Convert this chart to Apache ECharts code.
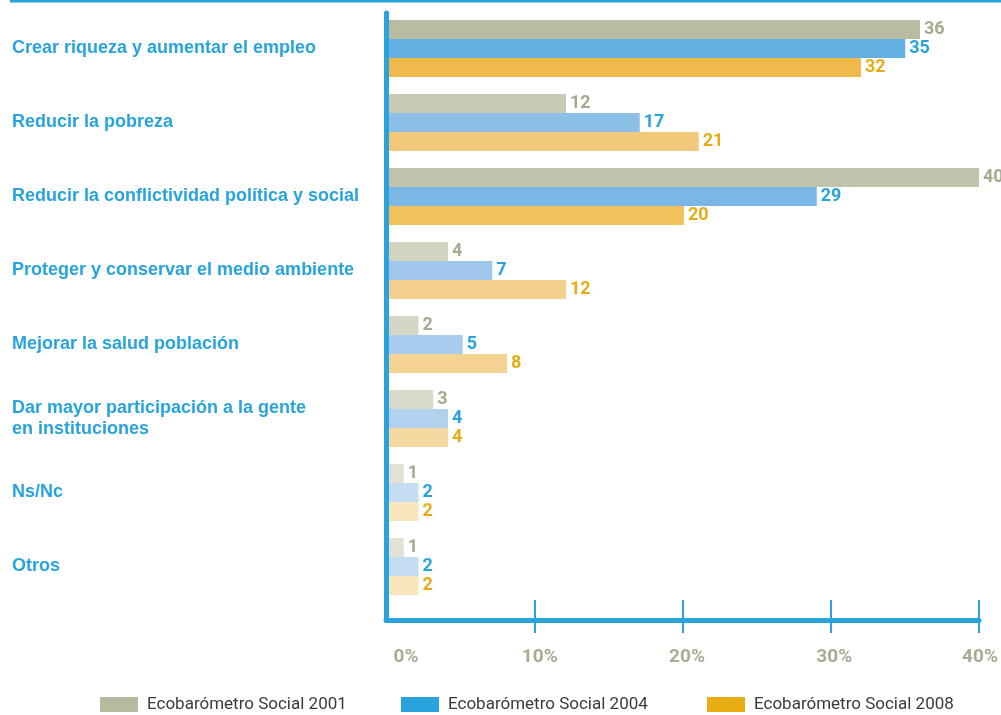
<!DOCTYPE html>
<html>
<head>
<meta charset="utf-8">
<script src="https://cdn.jsdelivr.net/npm/echarts@6/dist/echarts.min.js"></script>
<style>html,body{margin:0;padding:0;background:#fff}#c{width:1001px;height:715px}</style>
</head>
<body>
<div id="c"></div>
<script>
const categories = [
  'Crear riqueza y aumentar el empleo',
  'Reducir la pobreza',
  'Reducir la conflictividad política y social',
  'Proteger y conservar el medio ambiente',
  'Mejorar la salud población',
  'Dar mayor participación a la gente\nen instituciones',
  'Ns/Nc',
  'Otros'
];
const seriesNames = ['Ecobarómetro Social 2001', 'Ecobarómetro Social 2004', 'Ecobarómetro Social 2008'];
const values2001 = [36, 12, 40, 4, 2, 3, 1, 1];
const values2004 = [35, 17, 29, 7, 5, 4, 2, 2];
const values2008 = [32, 21, 20, 12, 8, 4, 2, 2];
const xTickValues = [0, 10, 20, 30, 40];

// styles
const legendColors = ['#b8baa0', '#2aa3dc', '#e9ae13'];
const legendLefts = [100, 401, 707];
const labelColors = ['#a8aa90', '#29a3dc', '#e8ab12'];
const barColors = [
  ['#b9bca2', '#c8cab4', '#c1c4ad', '#d2d4c2', '#d5d7c6', '#d9dbca', '#e1e2d5', '#e1e2d5'],
  ['#62b0e1', '#8dc0e8', '#7ab7e6', '#a0c8ec', '#a7cced', '#b0d2ef', '#c4ddf3', '#c4ddf3'],
  ['#efba4b', '#f2c97a', '#f1c15e', '#f4d08e', '#f4d394', '#f6d9a1', '#f9e6bd', '#f9e6bd']
];
const tickLabelShift = {0: 40, 10: 11, 20: 9, 30: 7, 40: 2};
const NUM_FONT = 'Roboto';

const allValues = [values2001, values2004, values2008];
const BLUE = '#29a3dc';

const chart = echarts.init(document.getElementById('c'), null, {renderer: 'canvas'});

const rich = {};
xTickValues.forEach(v => {
  rich['p' + v] = {
    fontFamily: NUM_FONT, fontWeight: 'bold', fontSize: 19,
    color: '#a9ac92', padding: [0, 0, 0, tickLabelShift[v]]
  };
});

const series = allValues.map((vals, i) => ({
  name: seriesNames[i],
  type: 'bar',
  xAxisIndex: 0,
  yAxisIndex: 0,
  barWidth: 19,
  barGap: '0%',
  itemStyle: {color: legendColors[i]},
  label: {
    show: true,
    position: 'right',
    distance: 4,
    fontFamily: NUM_FONT,
    fontWeight: 'bold',
    fontSize: 18,
    color: labelColors[i]
  },
  data: vals.map((v, j) => ({value: v, itemStyle: {color: barColors[i][j]}}))
}));

const legends = seriesNames.map((name, i) => ({
  left: legendLefts[i],
  top: 696,
  padding: 0,
  itemWidth: 38,
  itemHeight: 15,
  icon: 'rect',
  data: [name],
  textStyle: {
    fontFamily: 'Roboto',
    fontSize: 17,
    color: '#3a3a3a',
    padding: [0, 0, 0, 4]
  }
}));

chart.setOption({
  animation: false,
  backgroundColor: '#fff',
  graphic: [{
    type: 'line',
    shape: {x1: 10, y1: 1, x2: 1001, y2: 1},
    style: {stroke: BLUE, lineWidth: 3}
  }],
  legend: legends,
  grid: [
    {left: 389, top: 11.5, width: 590, height: 592, containLabel: false},
    {left: 386, top: 13, width: 593, height: 607, containLabel: false}
  ],
  xAxis: [
    {gridIndex: 0, type: 'value', min: 0, max: 40, show: false},
    {
      gridIndex: 1, type: 'value', position: 'bottom', min: 0, max: 40, interval: 10,
      axisLine: {show: true, onZero: false, lineStyle: {color: BLUE, width: 5}},
      axisTick: {show: true, inside: true, length: 20, customValues: [10, 20, 30, 40], lineStyle: {color: BLUE, width: 2}},
      splitLine: {show: false},
      axisLabel: {
        show: true, margin: 28,
        formatter: v => '{p' + v + '|' + v + '%}',
        rich: rich
      }
    },
    {
      gridIndex: 1, type: 'value', position: 'bottom', min: 0, max: 40, interval: 10,
      axisLine: {show: false, onZero: false},
      axisTick: {show: true, inside: false, length: 13, customValues: [10, 20, 30, 40], lineStyle: {color: BLUE, width: 2}},
      splitLine: {show: false},
      axisLabel: {show: false}
    }
  ],
  yAxis: [
    {
      gridIndex: 0, type: 'category', inverse: true, data: categories,
      axisLine: {show: false}, axisTick: {show: false}, splitLine: {show: false},
      axisLabel: {
        show: true, align: 'left', margin: 377,
        fontFamily: 'Liberation Sans', fontWeight: 'bold', fontSize: 18,
        lineHeight: 21, color: BLUE
      }
    },
    {
      gridIndex: 1, type: 'value', min: 0, max: 1,
      axisLine: {show: true, onZero: false, lineStyle: {color: BLUE, width: 5}},
      axisTick: {show: false}, axisLabel: {show: false}, splitLine: {show: false}
    }
  ],
  series: series
});
</script>
</body>
</html>
